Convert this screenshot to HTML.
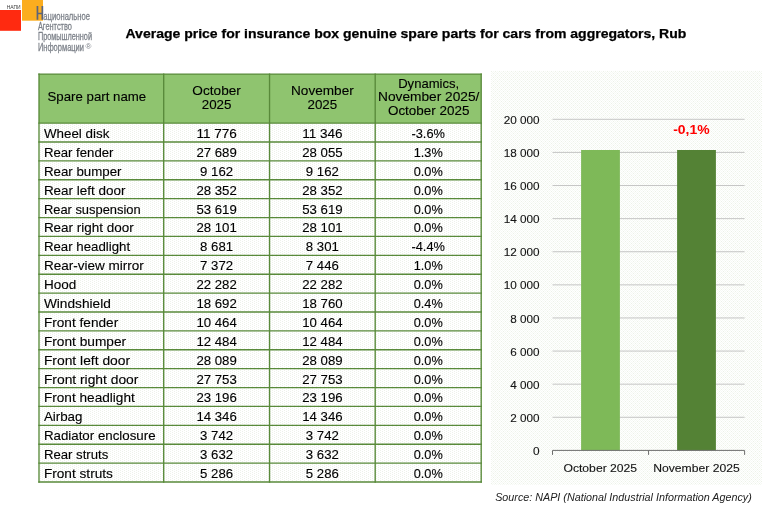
<!DOCTYPE html>
<html lang="en"><head><meta charset="utf-8"><title>Average price for insurance box genuine spare parts</title>
<style>
html,body{margin:0;padding:0;background:#fff;}
body{width:768px;height:513px;overflow:hidden;font-family:"Liberation Sans",sans-serif;}
svg{display:block;position:absolute;left:0;top:0;will-change:transform;}
text{font-family:"Liberation Sans",sans-serif;}
</style></head><body>
<svg width="768" height="513" viewBox="0 0 768 513">
<defs>
<pattern id="dots" width="4" height="2" patternUnits="userSpaceOnUse">
<rect width="4" height="2" fill="#fff"/>
<rect x="0" y="0" width="1" height="1" fill="#eef2ea"/>
<rect x="2" y="1" width="1" height="1" fill="#eef2ea"/>
</pattern>
<pattern id="lattice" width="4" height="4" patternUnits="userSpaceOnUse">
<rect width="4" height="4" fill="#fff"/>
<path d="M0,0h1v1h-1z M2,0h1v1h-1z M1,1h1v1h-1z M3,1h1v1h-1z M0,2h1v1h-1z M2,2h1v1h-1z M1,3h1v1h-1z M3,3h1v1h-1z" fill="#f6f9f4"/>
<path d="M1,1h1v1h-1z M3,3h1v1h-1z" fill="#ecf2e7"/>
</pattern>
</defs>
<rect width="768" height="513" fill="#fff"/>

<rect x="0" y="10" width="21" height="20.8" fill="#ff2a10"/>
<rect x="22" y="0" width="21" height="20.7" fill="#fbad1f"/>
<text x="6.7" y="8.7" font-size="4.7" textLength="14" lengthAdjust="spacingAndGlyphs" fill="#3a3a3a">НАПИ</text>
<path d="M36.6,6.1h1.7v6.7h3.2v-6.7h1.7v13.6h-1.7v-5.4h-3.2v5.4h-1.7z" fill="#5c647a"/>
<text x="43.3" y="20" font-size="10.7" stroke="#7c8189" stroke-width="0.28" textLength="46.7" lengthAdjust="spacingAndGlyphs" fill="#7c8189">ациональное</text>
<text x="37.9" y="29.7" font-size="10.7" stroke="#7c8189" stroke-width="0.28" textLength="34.1" lengthAdjust="spacingAndGlyphs" fill="#7c8189">Агентство</text>
<text x="37.9" y="39.6" font-size="10.7" stroke="#7c8189" stroke-width="0.28" textLength="54.1" lengthAdjust="spacingAndGlyphs" fill="#7c8189">Промышленной</text>
<text x="37.9" y="50.6" font-size="10.7" stroke="#7c8189" stroke-width="0.28" textLength="46.1" lengthAdjust="spacingAndGlyphs" fill="#7c8189">Информации</text>
<text x="85.4" y="48.6" font-size="8" fill="#7c8189">®</text>
<text x="125.5" y="38.4" font-size="13" font-weight="bold" stroke="#000" stroke-width="0.25" textLength="560.8" lengthAdjust="spacingAndGlyphs" fill="#000">Average price for insurance box genuine spare parts for cars from aggregators, Rub</text>
<rect x="39.0" y="123.1" width="442.2" height="358.90" fill="url(#dots)"/>
<rect x="39.0" y="74.05" width="442.2" height="49.05" fill="#8fc46f"/>
<line x1="39.0" y1="73.375" x2="39.0" y2="482.68" stroke="#598a3a" stroke-width="1.35"/>
<line x1="163.7" y1="73.375" x2="163.7" y2="482.68" stroke="#598a3a" stroke-width="1.35"/>
<line x1="269.55" y1="73.375" x2="269.55" y2="482.68" stroke="#598a3a" stroke-width="1.35"/>
<line x1="375.2" y1="73.375" x2="375.2" y2="482.68" stroke="#598a3a" stroke-width="1.35"/>
<line x1="481.2" y1="73.375" x2="481.2" y2="482.68" stroke="#598a3a" stroke-width="1.35"/>
<line x1="38.325" y1="74.05" x2="481.875" y2="74.05" stroke="#598a3a" stroke-width="1.35"/>
<line x1="38.325" y1="123.10" x2="481.875" y2="123.10" stroke="#598a3a" stroke-width="1.35"/>
<line x1="38.325" y1="141.99" x2="481.875" y2="141.99" stroke="#598a3a" stroke-width="1.35"/>
<line x1="38.325" y1="160.88" x2="481.875" y2="160.88" stroke="#598a3a" stroke-width="1.35"/>
<line x1="38.325" y1="179.77" x2="481.875" y2="179.77" stroke="#598a3a" stroke-width="1.35"/>
<line x1="38.325" y1="198.66" x2="481.875" y2="198.66" stroke="#598a3a" stroke-width="1.35"/>
<line x1="38.325" y1="217.55" x2="481.875" y2="217.55" stroke="#598a3a" stroke-width="1.35"/>
<line x1="38.325" y1="236.44" x2="481.875" y2="236.44" stroke="#598a3a" stroke-width="1.35"/>
<line x1="38.325" y1="255.33" x2="481.875" y2="255.33" stroke="#598a3a" stroke-width="1.35"/>
<line x1="38.325" y1="274.22" x2="481.875" y2="274.22" stroke="#598a3a" stroke-width="1.35"/>
<line x1="38.325" y1="293.11" x2="481.875" y2="293.11" stroke="#598a3a" stroke-width="1.35"/>
<line x1="38.325" y1="311.99" x2="481.875" y2="311.99" stroke="#598a3a" stroke-width="1.35"/>
<line x1="38.325" y1="330.88" x2="481.875" y2="330.88" stroke="#598a3a" stroke-width="1.35"/>
<line x1="38.325" y1="349.77" x2="481.875" y2="349.77" stroke="#598a3a" stroke-width="1.35"/>
<line x1="38.325" y1="368.66" x2="481.875" y2="368.66" stroke="#598a3a" stroke-width="1.35"/>
<line x1="38.325" y1="387.55" x2="481.875" y2="387.55" stroke="#598a3a" stroke-width="1.35"/>
<line x1="38.325" y1="406.44" x2="481.875" y2="406.44" stroke="#598a3a" stroke-width="1.35"/>
<line x1="38.325" y1="425.33" x2="481.875" y2="425.33" stroke="#598a3a" stroke-width="1.35"/>
<line x1="38.325" y1="444.22" x2="481.875" y2="444.22" stroke="#598a3a" stroke-width="1.35"/>
<line x1="38.325" y1="463.11" x2="481.875" y2="463.11" stroke="#598a3a" stroke-width="1.35"/>
<line x1="38.325" y1="482.00" x2="481.875" y2="482.00" stroke="#598a3a" stroke-width="1.35"/>
<text x="47.50" y="100.70" font-size="13.0" text-anchor="start" textLength="98.71" lengthAdjust="spacingAndGlyphs" fill="#000" stroke="#000" stroke-width="0.12" >Spare part name</text>
<text x="216.62" y="94.80" font-size="13.0" text-anchor="middle" textLength="48.48" lengthAdjust="spacingAndGlyphs" fill="#000" stroke="#000" stroke-width="0.12" >October</text>
<text x="216.62" y="108.90" font-size="13.0" text-anchor="middle" textLength="29.70" lengthAdjust="spacingAndGlyphs" fill="#000" stroke="#000" stroke-width="0.12" >2025</text>
<text x="322.38" y="94.80" font-size="13.0" text-anchor="middle" textLength="62.68" lengthAdjust="spacingAndGlyphs" fill="#000" stroke="#000" stroke-width="0.12" >November</text>
<text x="322.38" y="108.90" font-size="13.0" text-anchor="middle" textLength="29.70" lengthAdjust="spacingAndGlyphs" fill="#000" stroke="#000" stroke-width="0.12" >2025</text>
<text x="428.70" y="87.60" font-size="13.0" text-anchor="middle" textLength="61.00" lengthAdjust="spacingAndGlyphs" fill="#000" stroke="#000" stroke-width="0.12" >Dynamics,</text>
<text x="428.70" y="101.40" font-size="13.0" text-anchor="middle" textLength="101.35" lengthAdjust="spacingAndGlyphs" fill="#000" stroke="#000" stroke-width="0.12" >November 2025/</text>
<text x="428.70" y="114.80" font-size="13.0" text-anchor="middle" textLength="81.50" lengthAdjust="spacingAndGlyphs" fill="#000" stroke="#000" stroke-width="0.12" >October 2025</text>
<text x="43.90" y="137.95" font-size="13.0" text-anchor="start" textLength="65.43" lengthAdjust="spacingAndGlyphs" fill="#000" stroke="#000" stroke-width="0.12" >Wheel disk</text>
<text x="216.62" y="137.95" font-size="13.0" text-anchor="middle" textLength="40.44" lengthAdjust="spacingAndGlyphs" fill="#000" stroke="#000" stroke-width="0.12" >11 776</text>
<text x="322.38" y="137.95" font-size="13.0" text-anchor="middle" textLength="40.44" lengthAdjust="spacingAndGlyphs" fill="#000" stroke="#000" stroke-width="0.12" >11 346</text>
<text x="428.20" y="137.95" font-size="13.0" text-anchor="middle" textLength="33.51" lengthAdjust="spacingAndGlyphs" fill="#000" stroke="#000" stroke-width="0.12" >-3.6%</text>
<text x="43.90" y="156.84" font-size="13.0" text-anchor="start" textLength="69.61" lengthAdjust="spacingAndGlyphs" fill="#000" stroke="#000" stroke-width="0.12" >Rear fender</text>
<text x="216.62" y="156.84" font-size="13.0" text-anchor="middle" textLength="40.44" lengthAdjust="spacingAndGlyphs" fill="#000" stroke="#000" stroke-width="0.12" >27 689</text>
<text x="322.38" y="156.84" font-size="13.0" text-anchor="middle" textLength="40.44" lengthAdjust="spacingAndGlyphs" fill="#000" stroke="#000" stroke-width="0.12" >28 055</text>
<text x="428.20" y="156.84" font-size="13.0" text-anchor="middle" textLength="29.02" lengthAdjust="spacingAndGlyphs" fill="#000" stroke="#000" stroke-width="0.12" >1.3%</text>
<text x="43.90" y="175.73" font-size="13.0" text-anchor="start" textLength="77.62" lengthAdjust="spacingAndGlyphs" fill="#000" stroke="#000" stroke-width="0.12" >Rear bumper</text>
<text x="216.62" y="175.73" font-size="13.0" text-anchor="middle" textLength="33.02" lengthAdjust="spacingAndGlyphs" fill="#000" stroke="#000" stroke-width="0.12" >9 162</text>
<text x="322.38" y="175.73" font-size="13.0" text-anchor="middle" textLength="33.02" lengthAdjust="spacingAndGlyphs" fill="#000" stroke="#000" stroke-width="0.12" >9 162</text>
<text x="428.20" y="175.73" font-size="13.0" text-anchor="middle" textLength="29.02" lengthAdjust="spacingAndGlyphs" fill="#000" stroke="#000" stroke-width="0.12" >0.0%</text>
<text x="43.90" y="194.62" font-size="13.0" text-anchor="start" textLength="81.54" lengthAdjust="spacingAndGlyphs" fill="#000" stroke="#000" stroke-width="0.12" >Rear left door</text>
<text x="216.62" y="194.62" font-size="13.0" text-anchor="middle" textLength="40.44" lengthAdjust="spacingAndGlyphs" fill="#000" stroke="#000" stroke-width="0.12" >28 352</text>
<text x="322.38" y="194.62" font-size="13.0" text-anchor="middle" textLength="40.44" lengthAdjust="spacingAndGlyphs" fill="#000" stroke="#000" stroke-width="0.12" >28 352</text>
<text x="428.20" y="194.62" font-size="13.0" text-anchor="middle" textLength="29.02" lengthAdjust="spacingAndGlyphs" fill="#000" stroke="#000" stroke-width="0.12" >0.0%</text>
<text x="43.90" y="213.51" font-size="13.0" text-anchor="start" textLength="96.78" lengthAdjust="spacingAndGlyphs" fill="#000" stroke="#000" stroke-width="0.12" >Rear suspension</text>
<text x="216.62" y="213.51" font-size="13.0" text-anchor="middle" textLength="40.44" lengthAdjust="spacingAndGlyphs" fill="#000" stroke="#000" stroke-width="0.12" >53 619</text>
<text x="322.38" y="213.51" font-size="13.0" text-anchor="middle" textLength="40.44" lengthAdjust="spacingAndGlyphs" fill="#000" stroke="#000" stroke-width="0.12" >53 619</text>
<text x="428.20" y="213.51" font-size="13.0" text-anchor="middle" textLength="29.02" lengthAdjust="spacingAndGlyphs" fill="#000" stroke="#000" stroke-width="0.12" >0.0%</text>
<text x="43.90" y="232.40" font-size="13.0" text-anchor="start" textLength="89.83" lengthAdjust="spacingAndGlyphs" fill="#000" stroke="#000" stroke-width="0.12" >Rear right door</text>
<text x="216.62" y="232.40" font-size="13.0" text-anchor="middle" textLength="40.44" lengthAdjust="spacingAndGlyphs" fill="#000" stroke="#000" stroke-width="0.12" >28 101</text>
<text x="322.38" y="232.40" font-size="13.0" text-anchor="middle" textLength="40.44" lengthAdjust="spacingAndGlyphs" fill="#000" stroke="#000" stroke-width="0.12" >28 101</text>
<text x="428.20" y="232.40" font-size="13.0" text-anchor="middle" textLength="29.02" lengthAdjust="spacingAndGlyphs" fill="#000" stroke="#000" stroke-width="0.12" >0.0%</text>
<text x="43.90" y="251.29" font-size="13.0" text-anchor="start" textLength="86.21" lengthAdjust="spacingAndGlyphs" fill="#000" stroke="#000" stroke-width="0.12" >Rear headlight</text>
<text x="216.62" y="251.29" font-size="13.0" text-anchor="middle" textLength="33.02" lengthAdjust="spacingAndGlyphs" fill="#000" stroke="#000" stroke-width="0.12" >8 681</text>
<text x="322.38" y="251.29" font-size="13.0" text-anchor="middle" textLength="33.02" lengthAdjust="spacingAndGlyphs" fill="#000" stroke="#000" stroke-width="0.12" >8 301</text>
<text x="428.20" y="251.29" font-size="13.0" text-anchor="middle" textLength="33.51" lengthAdjust="spacingAndGlyphs" fill="#000" stroke="#000" stroke-width="0.12" >-4.4%</text>
<text x="43.90" y="270.18" font-size="13.0" text-anchor="start" textLength="99.90" lengthAdjust="spacingAndGlyphs" fill="#000" stroke="#000" stroke-width="0.12" >Rear-view mirror</text>
<text x="216.62" y="270.18" font-size="13.0" text-anchor="middle" textLength="33.02" lengthAdjust="spacingAndGlyphs" fill="#000" stroke="#000" stroke-width="0.12" >7 372</text>
<text x="322.38" y="270.18" font-size="13.0" text-anchor="middle" textLength="33.02" lengthAdjust="spacingAndGlyphs" fill="#000" stroke="#000" stroke-width="0.12" >7 446</text>
<text x="428.20" y="270.18" font-size="13.0" text-anchor="middle" textLength="29.02" lengthAdjust="spacingAndGlyphs" fill="#000" stroke="#000" stroke-width="0.12" >1.0%</text>
<text x="43.90" y="289.07" font-size="13.0" text-anchor="start" textLength="32.28" lengthAdjust="spacingAndGlyphs" fill="#000" stroke="#000" stroke-width="0.12" >Hood</text>
<text x="216.62" y="289.07" font-size="13.0" text-anchor="middle" textLength="40.44" lengthAdjust="spacingAndGlyphs" fill="#000" stroke="#000" stroke-width="0.12" >22 282</text>
<text x="322.38" y="289.07" font-size="13.0" text-anchor="middle" textLength="40.44" lengthAdjust="spacingAndGlyphs" fill="#000" stroke="#000" stroke-width="0.12" >22 282</text>
<text x="428.20" y="289.07" font-size="13.0" text-anchor="middle" textLength="29.02" lengthAdjust="spacingAndGlyphs" fill="#000" stroke="#000" stroke-width="0.12" >0.0%</text>
<text x="43.90" y="307.96" font-size="13.0" text-anchor="start" textLength="66.93" lengthAdjust="spacingAndGlyphs" fill="#000" stroke="#000" stroke-width="0.12" >Windshield</text>
<text x="216.62" y="307.96" font-size="13.0" text-anchor="middle" textLength="40.44" lengthAdjust="spacingAndGlyphs" fill="#000" stroke="#000" stroke-width="0.12" >18 692</text>
<text x="322.38" y="307.96" font-size="13.0" text-anchor="middle" textLength="40.44" lengthAdjust="spacingAndGlyphs" fill="#000" stroke="#000" stroke-width="0.12" >18 760</text>
<text x="428.20" y="307.96" font-size="13.0" text-anchor="middle" textLength="29.02" lengthAdjust="spacingAndGlyphs" fill="#000" stroke="#000" stroke-width="0.12" >0.4%</text>
<text x="43.90" y="326.84" font-size="13.0" text-anchor="start" textLength="74.30" lengthAdjust="spacingAndGlyphs" fill="#000" stroke="#000" stroke-width="0.12" >Front fender</text>
<text x="216.62" y="326.84" font-size="13.0" text-anchor="middle" textLength="40.44" lengthAdjust="spacingAndGlyphs" fill="#000" stroke="#000" stroke-width="0.12" >10 464</text>
<text x="322.38" y="326.84" font-size="13.0" text-anchor="middle" textLength="40.44" lengthAdjust="spacingAndGlyphs" fill="#000" stroke="#000" stroke-width="0.12" >10 464</text>
<text x="428.20" y="326.84" font-size="13.0" text-anchor="middle" textLength="29.02" lengthAdjust="spacingAndGlyphs" fill="#000" stroke="#000" stroke-width="0.12" >0.0%</text>
<text x="43.90" y="345.73" font-size="13.0" text-anchor="start" textLength="82.30" lengthAdjust="spacingAndGlyphs" fill="#000" stroke="#000" stroke-width="0.12" >Front bumper</text>
<text x="216.62" y="345.73" font-size="13.0" text-anchor="middle" textLength="40.44" lengthAdjust="spacingAndGlyphs" fill="#000" stroke="#000" stroke-width="0.12" >12 484</text>
<text x="322.38" y="345.73" font-size="13.0" text-anchor="middle" textLength="40.44" lengthAdjust="spacingAndGlyphs" fill="#000" stroke="#000" stroke-width="0.12" >12 484</text>
<text x="428.20" y="345.73" font-size="13.0" text-anchor="middle" textLength="29.02" lengthAdjust="spacingAndGlyphs" fill="#000" stroke="#000" stroke-width="0.12" >0.0%</text>
<text x="43.90" y="364.62" font-size="13.0" text-anchor="start" textLength="86.22" lengthAdjust="spacingAndGlyphs" fill="#000" stroke="#000" stroke-width="0.12" >Front left door</text>
<text x="216.62" y="364.62" font-size="13.0" text-anchor="middle" textLength="40.44" lengthAdjust="spacingAndGlyphs" fill="#000" stroke="#000" stroke-width="0.12" >28 089</text>
<text x="322.38" y="364.62" font-size="13.0" text-anchor="middle" textLength="40.44" lengthAdjust="spacingAndGlyphs" fill="#000" stroke="#000" stroke-width="0.12" >28 089</text>
<text x="428.20" y="364.62" font-size="13.0" text-anchor="middle" textLength="29.02" lengthAdjust="spacingAndGlyphs" fill="#000" stroke="#000" stroke-width="0.12" >0.0%</text>
<text x="43.90" y="383.51" font-size="13.0" text-anchor="start" textLength="94.51" lengthAdjust="spacingAndGlyphs" fill="#000" stroke="#000" stroke-width="0.12" >Front right door</text>
<text x="216.62" y="383.51" font-size="13.0" text-anchor="middle" textLength="40.44" lengthAdjust="spacingAndGlyphs" fill="#000" stroke="#000" stroke-width="0.12" >27 753</text>
<text x="322.38" y="383.51" font-size="13.0" text-anchor="middle" textLength="40.44" lengthAdjust="spacingAndGlyphs" fill="#000" stroke="#000" stroke-width="0.12" >27 753</text>
<text x="428.20" y="383.51" font-size="13.0" text-anchor="middle" textLength="29.02" lengthAdjust="spacingAndGlyphs" fill="#000" stroke="#000" stroke-width="0.12" >0.0%</text>
<text x="43.90" y="402.40" font-size="13.0" text-anchor="start" textLength="90.90" lengthAdjust="spacingAndGlyphs" fill="#000" stroke="#000" stroke-width="0.12" >Front headlight</text>
<text x="216.62" y="402.40" font-size="13.0" text-anchor="middle" textLength="40.44" lengthAdjust="spacingAndGlyphs" fill="#000" stroke="#000" stroke-width="0.12" >23 196</text>
<text x="322.38" y="402.40" font-size="13.0" text-anchor="middle" textLength="40.44" lengthAdjust="spacingAndGlyphs" fill="#000" stroke="#000" stroke-width="0.12" >23 196</text>
<text x="428.20" y="402.40" font-size="13.0" text-anchor="middle" textLength="29.02" lengthAdjust="spacingAndGlyphs" fill="#000" stroke="#000" stroke-width="0.12" >0.0%</text>
<text x="43.90" y="421.29" font-size="13.0" text-anchor="start" textLength="38.56" lengthAdjust="spacingAndGlyphs" fill="#000" stroke="#000" stroke-width="0.12" >Airbag</text>
<text x="216.62" y="421.29" font-size="13.0" text-anchor="middle" textLength="40.44" lengthAdjust="spacingAndGlyphs" fill="#000" stroke="#000" stroke-width="0.12" >14 346</text>
<text x="322.38" y="421.29" font-size="13.0" text-anchor="middle" textLength="40.44" lengthAdjust="spacingAndGlyphs" fill="#000" stroke="#000" stroke-width="0.12" >14 346</text>
<text x="428.20" y="421.29" font-size="13.0" text-anchor="middle" textLength="29.02" lengthAdjust="spacingAndGlyphs" fill="#000" stroke="#000" stroke-width="0.12" >0.0%</text>
<text x="43.90" y="440.18" font-size="13.0" text-anchor="start" textLength="111.72" lengthAdjust="spacingAndGlyphs" fill="#000" stroke="#000" stroke-width="0.12" >Radiator enclosure</text>
<text x="216.62" y="440.18" font-size="13.0" text-anchor="middle" textLength="33.02" lengthAdjust="spacingAndGlyphs" fill="#000" stroke="#000" stroke-width="0.12" >3 742</text>
<text x="322.38" y="440.18" font-size="13.0" text-anchor="middle" textLength="33.02" lengthAdjust="spacingAndGlyphs" fill="#000" stroke="#000" stroke-width="0.12" >3 742</text>
<text x="428.20" y="440.18" font-size="13.0" text-anchor="middle" textLength="29.02" lengthAdjust="spacingAndGlyphs" fill="#000" stroke="#000" stroke-width="0.12" >0.0%</text>
<text x="43.90" y="459.07" font-size="13.0" text-anchor="start" textLength="64.34" lengthAdjust="spacingAndGlyphs" fill="#000" stroke="#000" stroke-width="0.12" >Rear struts</text>
<text x="216.62" y="459.07" font-size="13.0" text-anchor="middle" textLength="33.02" lengthAdjust="spacingAndGlyphs" fill="#000" stroke="#000" stroke-width="0.12" >3 632</text>
<text x="322.38" y="459.07" font-size="13.0" text-anchor="middle" textLength="33.02" lengthAdjust="spacingAndGlyphs" fill="#000" stroke="#000" stroke-width="0.12" >3 632</text>
<text x="428.20" y="459.07" font-size="13.0" text-anchor="middle" textLength="29.02" lengthAdjust="spacingAndGlyphs" fill="#000" stroke="#000" stroke-width="0.12" >0.0%</text>
<text x="43.90" y="477.96" font-size="13.0" text-anchor="start" textLength="69.02" lengthAdjust="spacingAndGlyphs" fill="#000" stroke="#000" stroke-width="0.12" >Front struts</text>
<text x="216.62" y="477.96" font-size="13.0" text-anchor="middle" textLength="33.02" lengthAdjust="spacingAndGlyphs" fill="#000" stroke="#000" stroke-width="0.12" >5 286</text>
<text x="322.38" y="477.96" font-size="13.0" text-anchor="middle" textLength="33.02" lengthAdjust="spacingAndGlyphs" fill="#000" stroke="#000" stroke-width="0.12" >5 286</text>
<text x="428.20" y="477.96" font-size="13.0" text-anchor="middle" textLength="29.02" lengthAdjust="spacingAndGlyphs" fill="#000" stroke="#000" stroke-width="0.12" >0.0%</text>
<rect x="491" y="71" width="271.00" height="414.00" fill="url(#lattice)"/>
<line x1="552.5" y1="417.29" x2="744.6" y2="417.29" stroke="#bcbcbc" stroke-width="0.85"/>
<line x1="552.5" y1="384.18" x2="744.6" y2="384.18" stroke="#bcbcbc" stroke-width="0.85"/>
<line x1="552.5" y1="351.07" x2="744.6" y2="351.07" stroke="#bcbcbc" stroke-width="0.85"/>
<line x1="552.5" y1="317.96" x2="744.6" y2="317.96" stroke="#bcbcbc" stroke-width="0.85"/>
<line x1="552.5" y1="284.85" x2="744.6" y2="284.85" stroke="#bcbcbc" stroke-width="0.85"/>
<line x1="552.5" y1="251.74" x2="744.6" y2="251.74" stroke="#bcbcbc" stroke-width="0.85"/>
<line x1="552.5" y1="218.63" x2="744.6" y2="218.63" stroke="#bcbcbc" stroke-width="0.85"/>
<line x1="552.5" y1="185.52" x2="744.6" y2="185.52" stroke="#bcbcbc" stroke-width="0.85"/>
<line x1="552.5" y1="152.41" x2="744.6" y2="152.41" stroke="#bcbcbc" stroke-width="0.85"/>
<line x1="552.5" y1="119.30" x2="744.6" y2="119.30" stroke="#bcbcbc" stroke-width="0.85"/>
<rect x="581.1" y="150.0" width="38.8" height="300.40" fill="#7eb958"/>
<rect x="677.1" y="150.0" width="38.8" height="300.40" fill="#548235"/>
<path d="M552.5,454.9 V450.4 H744.6 V454.9 M648.55,450.4 v4.5" stroke="#6e6e6e" stroke-width="1" fill="none"/>
<text x="539.60" y="455.00" font-size="11.4" text-anchor="end" textLength="6.59" lengthAdjust="spacingAndGlyphs" fill="#151515" stroke="#151515" stroke-width="0.12" >0</text>
<text x="539.60" y="421.89" font-size="11.4" text-anchor="end" textLength="29.30" lengthAdjust="spacingAndGlyphs" fill="#151515" stroke="#151515" stroke-width="0.12" >2 000</text>
<text x="539.60" y="388.78" font-size="11.4" text-anchor="end" textLength="29.30" lengthAdjust="spacingAndGlyphs" fill="#151515" stroke="#151515" stroke-width="0.12" >4 000</text>
<text x="539.60" y="355.67" font-size="11.4" text-anchor="end" textLength="29.30" lengthAdjust="spacingAndGlyphs" fill="#151515" stroke="#151515" stroke-width="0.12" >6 000</text>
<text x="539.60" y="322.56" font-size="11.4" text-anchor="end" textLength="29.30" lengthAdjust="spacingAndGlyphs" fill="#151515" stroke="#151515" stroke-width="0.12" >8 000</text>
<text x="539.60" y="289.45" font-size="11.4" text-anchor="end" textLength="35.89" lengthAdjust="spacingAndGlyphs" fill="#151515" stroke="#151515" stroke-width="0.12" >10 000</text>
<text x="539.60" y="256.34" font-size="11.4" text-anchor="end" textLength="35.89" lengthAdjust="spacingAndGlyphs" fill="#151515" stroke="#151515" stroke-width="0.12" >12 000</text>
<text x="539.60" y="223.23" font-size="11.4" text-anchor="end" textLength="35.89" lengthAdjust="spacingAndGlyphs" fill="#151515" stroke="#151515" stroke-width="0.12" >14 000</text>
<text x="539.60" y="190.12" font-size="11.4" text-anchor="end" textLength="35.89" lengthAdjust="spacingAndGlyphs" fill="#151515" stroke="#151515" stroke-width="0.12" >16 000</text>
<text x="539.60" y="157.01" font-size="11.4" text-anchor="end" textLength="35.89" lengthAdjust="spacingAndGlyphs" fill="#151515" stroke="#151515" stroke-width="0.12" >18 000</text>
<text x="539.60" y="123.90" font-size="11.4" text-anchor="end" textLength="35.89" lengthAdjust="spacingAndGlyphs" fill="#151515" stroke="#151515" stroke-width="0.12" >20 000</text>
<text x="600.30" y="472.20" font-size="11.6" text-anchor="middle" textLength="73.71" lengthAdjust="spacingAndGlyphs" fill="#151515" stroke="#151515" stroke-width="0.12" >October 2025</text>
<text x="696.50" y="472.20" font-size="11.6" text-anchor="middle" textLength="86.55" lengthAdjust="spacingAndGlyphs" fill="#151515" stroke="#151515" stroke-width="0.12" >November 2025</text>
<text x="691.4" y="133.5" font-size="13.6" font-weight="bold" text-anchor="middle" textLength="36.4" lengthAdjust="spacingAndGlyphs" fill="#ff0000">-0,1%</text>
<text x="751.8" y="501.0" font-size="11.5" font-style="italic" text-anchor="end" textLength="256.6" lengthAdjust="spacingAndGlyphs" fill="#222">Source: NAPI (National Industrial Information Agency)</text>
</svg></body></html>
